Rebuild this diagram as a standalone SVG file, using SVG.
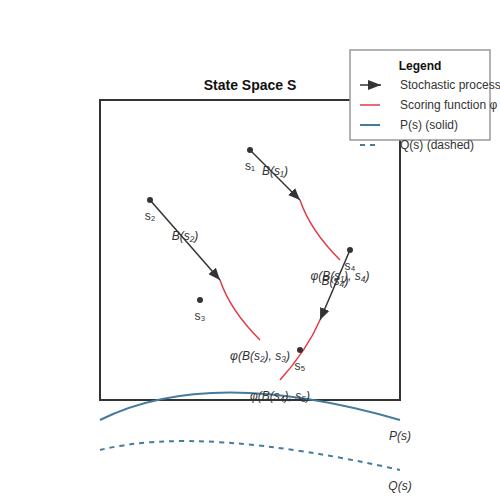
<svg xmlns="http://www.w3.org/2000/svg" width="500" height="500" viewBox="0 0 500 500">
<defs>
<marker id="arr" viewBox="0 0 10 10" refX="10" refY="5" markerWidth="12" markerHeight="10" markerUnits="userSpaceOnUse" orient="auto" preserveAspectRatio="none">
<path d="M0,0 L10,5 L0,10 z" fill="#333"/>
</marker>
<marker id="arrL" viewBox="0 0 10 10" refX="10" refY="5" markerWidth="13" markerHeight="10" markerUnits="userSpaceOnUse" orient="auto" preserveAspectRatio="none">
<path d="M0,0 L10,5 L0,10 z" fill="#333"/>
</marker>
<style>
text{font-family:"Liberation Sans",Arial,sans-serif;font-size:12px;fill:#333}
.title{font-size:14px;font-weight:bold;fill:#111}
.lt{font-weight:bold;fill:#111}
.it{font-style:italic}
.mid{text-anchor:middle}
.arrow{stroke:#333;stroke-width:1.5;fill:none}
.score{stroke:#e63946;stroke-width:1.5;fill:none}
.pdist{stroke:#457b9d;stroke-width:2;fill:none}
.qdist{stroke:#457b9d;stroke-width:2;fill:none;stroke-dasharray:5,5}
.pt{fill:#333}
</style>
</defs>
<text class="title mid" x="250" y="90">State Space S</text>
<rect x="100" y="100" width="300" height="300" fill="none" stroke="#333" stroke-width="2"/>
<g id="connectors">
<line class="arrow" x1="250" y1="150" x2="300" y2="200" marker-end="url(#arr)"/>
<line class="arrow" x1="150" y1="200" x2="220" y2="280" marker-end="url(#arr)"/>
<line class="arrow" x1="350" y1="250" x2="320" y2="320" marker-end="url(#arr)"/>
<path class="score" d="M300,200 Q310,230 340,260"/>
<path class="score" d="M220,280 Q230,310 260,340"/>
<path class="score" d="M320,320 Q307,350 280,380"/>
<path class="pdist" d="M100,420 Q210,365 400,420"/>
<path class="qdist" d="M100,450 Q200,425 400,470"/>
</g>
<g id="s1"><circle class="pt" cx="250" cy="150" r="3"/><text class="mid" x="250" y="170">s₁</text></g>
<g id="s2"><circle class="pt" cx="150" cy="200" r="3"/><text class="mid" x="150" y="220">s₂</text></g>
<g id="s3"><circle class="pt" cx="200" cy="300" r="3"/><text class="mid" x="200" y="320">s₃</text></g>
<g id="s4"><circle class="pt" cx="350" cy="250" r="3"/><text class="mid" x="350" y="270">s₄</text></g>
<g id="s5"><circle class="pt" cx="300" cy="350" r="3"/><text class="mid" x="300" y="370">s₅</text></g>
<g id="labels">
<text class="it mid" x="275" y="175">B(s₁)</text>
<text class="it mid" x="185" y="240">B(s₂)</text>
<text class="it mid" x="340" y="280">φ(B(s₁), s₄)</text>
<text class="it mid" x="335" y="285">B(s₄)</text>
<text class="it mid" x="260" y="360">φ(B(s₂), s₃)</text>
<text class="it mid" x="280" y="400">φ(B(s₄), s₅)</text>
<text class="it mid" x="400" y="440">P(s)</text>
<text class="it mid" x="400" y="490">Q(s)</text>
</g>
<g id="legend">
<rect x="350" y="50" width="140" height="90" fill="#fff" stroke="#999" stroke-width="1.5"/>
<text class="lt mid" x="420" y="70">Legend</text>
<line class="arrow" x1="360" y1="85" x2="381" y2="85" marker-end="url(#arrL)"/>
<text x="400" y="89">Stochastic process</text>
<line class="score" x1="360" y1="105" x2="380" y2="105"/>
<text x="400" y="109">Scoring function φ</text>
<line class="pdist" x1="360" y1="125" x2="380" y2="125"/>
<text x="400" y="129">P(s) (solid)</text>
<line class="qdist" x1="360" y1="145" x2="380" y2="145"/>
<text x="400" y="149">Q(s) (dashed)</text>
</g>
</svg>
